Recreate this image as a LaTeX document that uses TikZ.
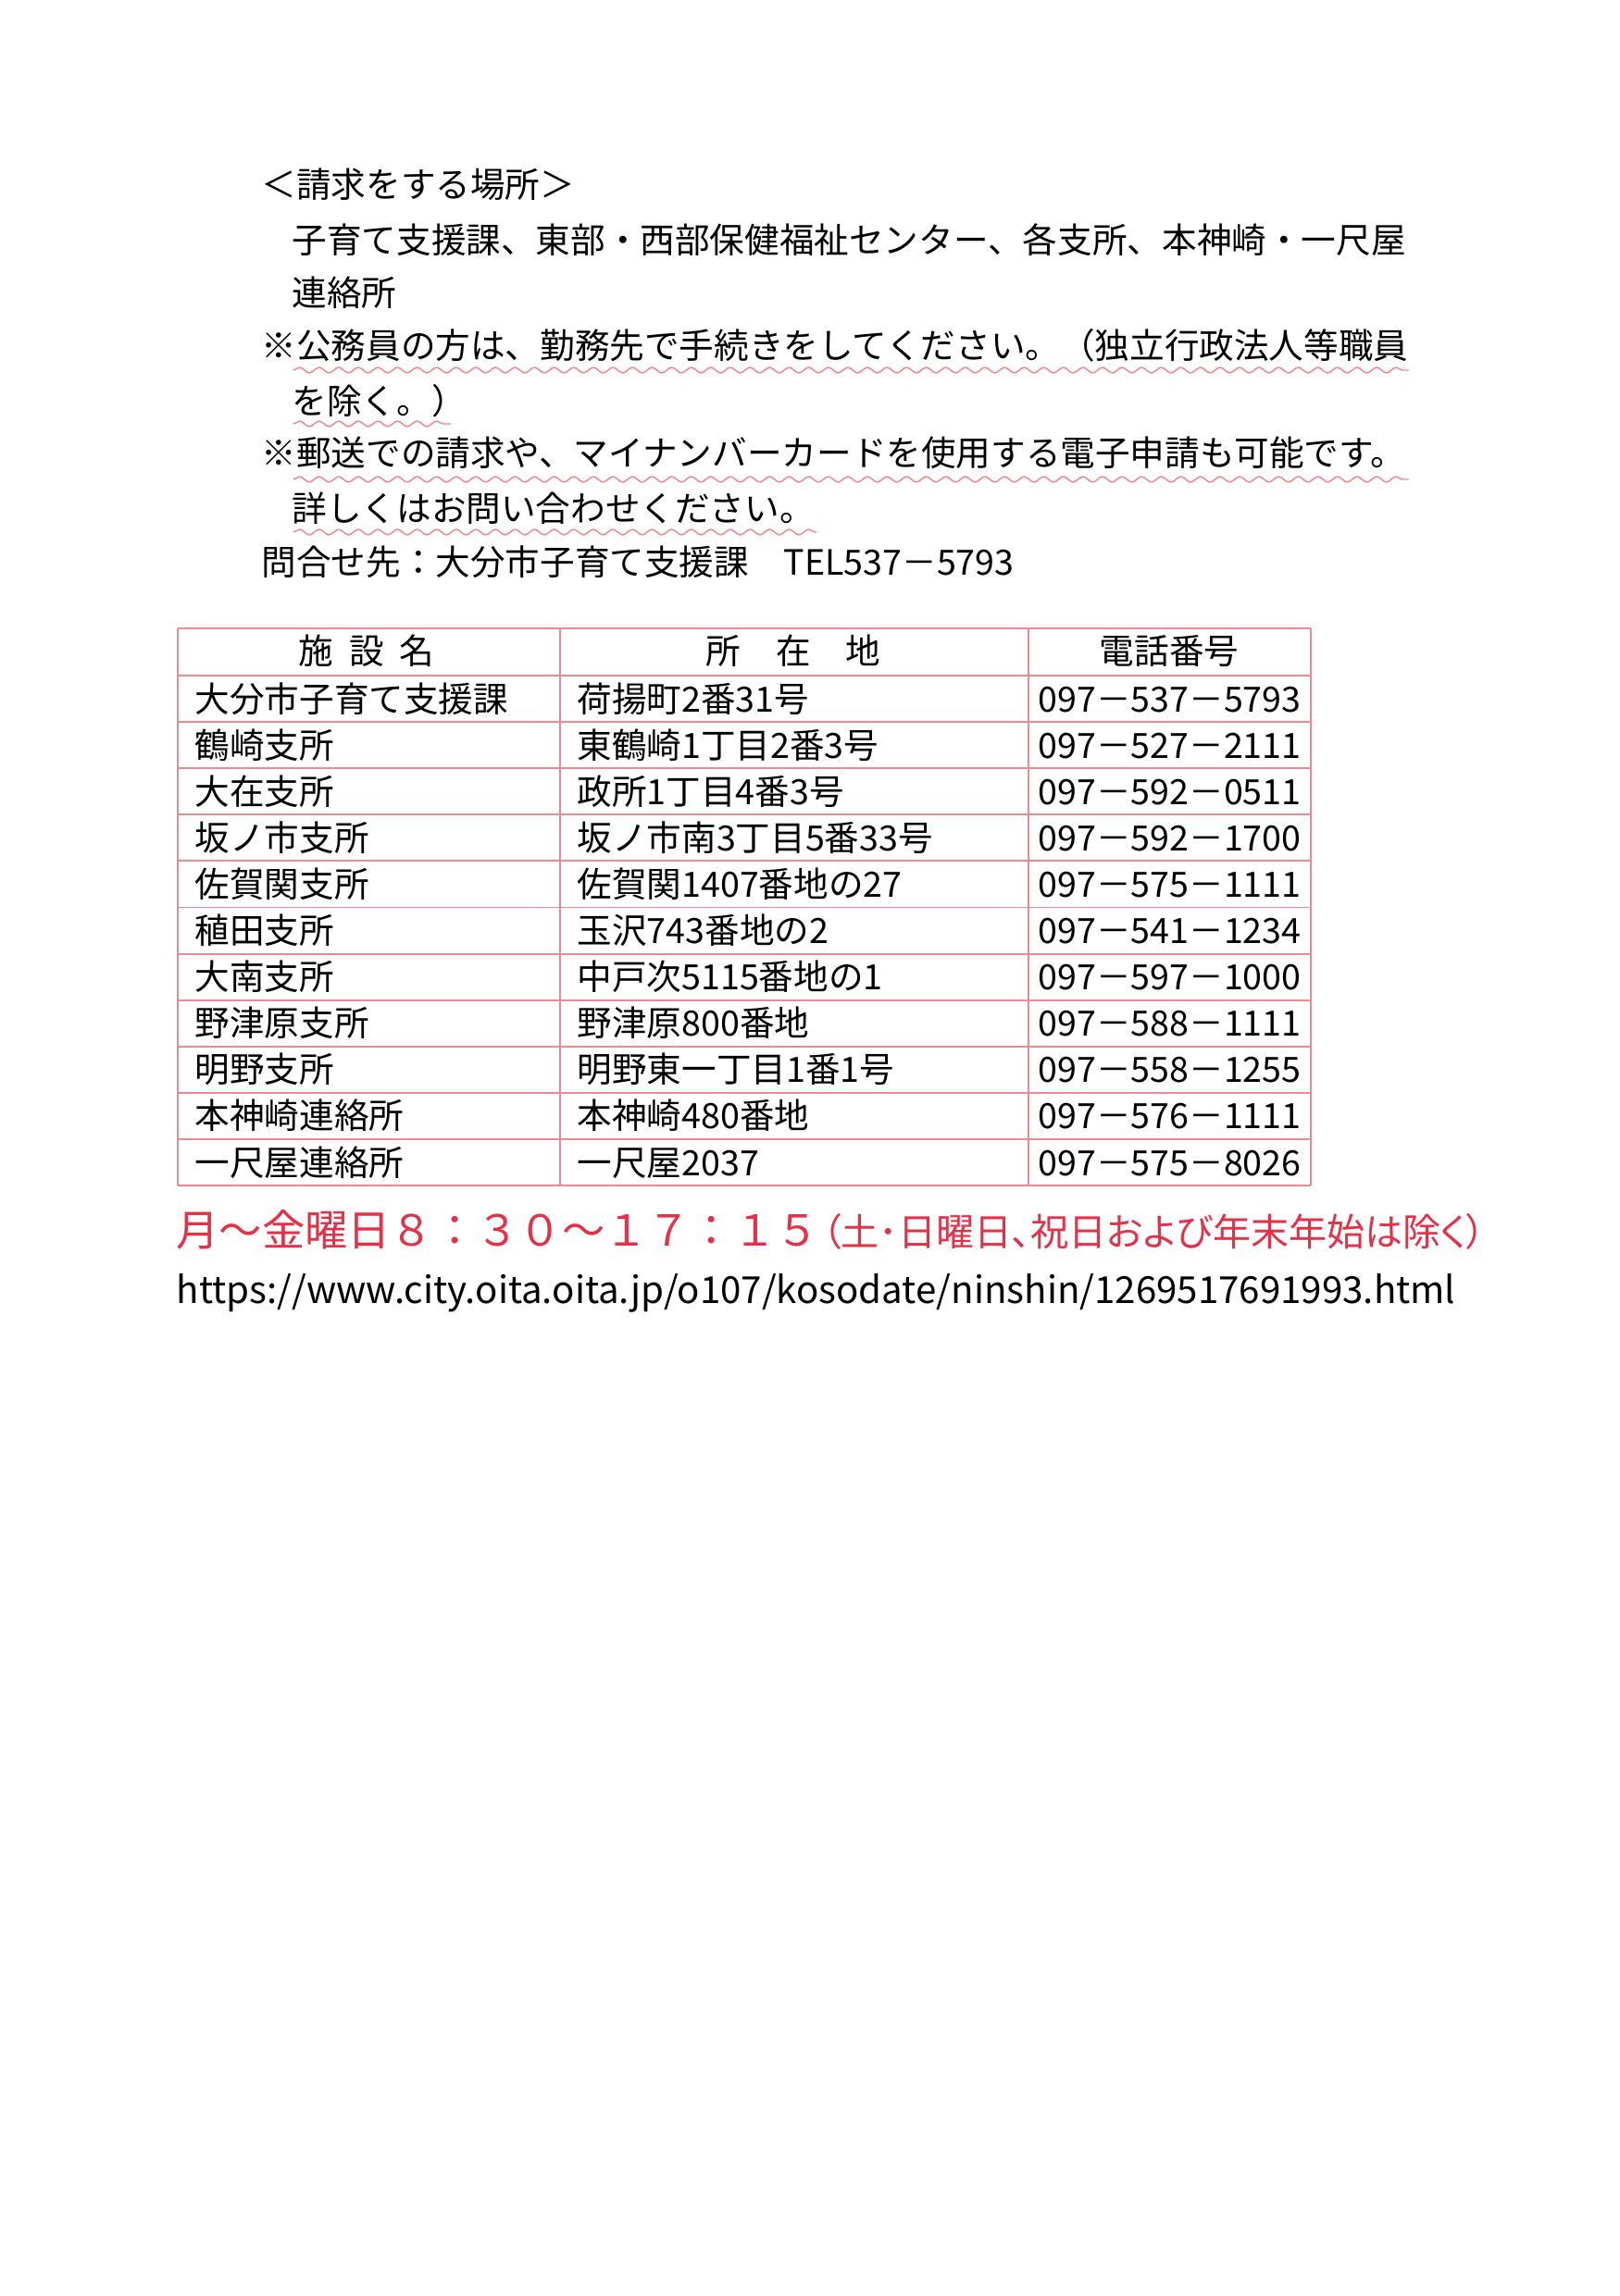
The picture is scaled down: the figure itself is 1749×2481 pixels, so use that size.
\documentclass[tikz,border=0pt]{standalone}
\usepackage{fontspec}
\setmainfont{Noto Sans CJK JP}
\usetikzlibrary{decorations.pathmorphing}
\definecolor{tblline}{RGB}{236,138,148}
\definecolor{redtxt}{RGB}{229,49,72}
\definecolor{wavecol}{RGB}{240,136,142}
\begin{document}
\begin{tikzpicture}[x=0.34036pt,y=-0.34036pt,
  txt/.style={anchor=base west,inner sep=0pt,font=\fontsize{12.8}{15}\selectfont},
  hdr/.style={anchor=base,inner sep=0pt,font=\fontsize{12.8}{15}\selectfont},
  wave/.style={draw=wavecol,line width=0.5pt,decorate,decoration={snake,segment length=7.2pt,amplitude=1pt}},
  grid/.style={draw=tblline,line width=0.65pt}]
\useasboundingbox[fill=white] (0,0) rectangle (1749,2481);

% ---- upper text block ----
\node[txt] (l1) at (282,214) {＜請求をする場所＞};
\node[txt] (l2) at (315,274) {子育て支援課、東部・西部保健福祉センター、各支所、本神崎・一尺屋};
\node[txt] (l3) at (315,331) {連絡所};
\node[txt] (l4) at (282,388) {※公務員の方は、勤務先で手続きをしてください。（独立行政法人等職員};
\node[txt] (l5) at (315,448) {を除く。）};
\node[txt] (l6) at (282,504) {※郵送での請求や、マイナンバーカードを使用する電子申請も可能です。};
\node[txt] (l7) at (315,564) {詳しくはお問い合わせください。};
\node[txt] (l8) at (282,622) {問合せ先：大分市子育て支援課　TEL537－5793};

% ---- wavy underlines ----
\coordinate (w4a) at (317,400); \coordinate (w4b) at (1522,400);
\coordinate (w5a) at (317,458); \coordinate (w5b) at (487,458);
\coordinate (w6a) at (317,518); \coordinate (w6b) at (1522,518);
\coordinate (w7a) at (317,575); \coordinate (w7b) at (882,575);
\draw[wave] (w4a) -- (w4b);
\draw[wave] (w5a) -- (w5b);
\draw[wave] (w6a) -- (w6b);
\draw[wave] (w7a) -- (w7b);

% ---- table grid ----
\foreach \k in {0,...,11} {
  \draw[grid] (192,{730+50.1*\k}) -- (1416,{730+50.1*\k});
}
\draw[grid] (192,679) -- (1416,679);
\draw[grid] (192,679) -- (192,1281);
\draw[grid] (605,679) -- (605,1281);
\draw[grid] (1111,679) -- (1111,1281);
\draw[grid] (1416,679) -- (1416,1281);

% ---- header ----
\node[hdr] (h1) at (396,718) {施\hspace{0.45em}設\hspace{0.45em}名};
\node[hdr] (h2) at (857,718) {所　在　地};
\node[hdr] (h3) at (1263,718) {電話番号};

% ---- body ----
\foreach \na/\ad/\ph [count=\i] in {
  大分市子育て支援課/荷揚町2番31号/097－537－5793,
  鶴崎支所/東鶴崎1丁目2番3号/097－527－2111,
  大在支所/政所1丁目4番3号/097－592－0511,
  坂ノ市支所/坂ノ市南3丁目5番33号/097－592－1700,
  佐賀関支所/佐賀関1407番地の27/097－575－1111,
  稙田支所/玉沢743番地の2/097－541－1234,
  大南支所/中戸次5115番地の1/097－597－1000,
  野津原支所/野津原800番地/097－588－1111,
  明野支所/明野東一丁目1番1号/097－558－1255,
  本神崎連絡所/本神崎480番地/097－576－1111,
  一尺屋連絡所/一尺屋2037/097－575－8026} {
  \node[txt] (n\i) at (210,{730+50.1*(\i-0.5)+14}) {\na};
  \node[txt] (a\i) at (623,{730+50.1*(\i-0.5)+14}) {\ad};
  \node[txt] (p\i) at (1121,{730+50.1*(\i-0.5)+14}) {\ph};
}

% ---- opening hours ----
\node[anchor=base west,inner sep=0pt,text=redtxt] (hours) at (190,1346)
  {{\fontsize{15.75}{18}\selectfont 月～金曜日８：３０～１７：１５}\hspace{0.12em}{\fontsize{13.95}{16}\selectfont\addfontfeatures{RawFeature=+palt}（土･日曜日、祝日および年末年始は除く）}};

% ---- URL ----
\node[anchor=base west,inner sep=0pt,font=\fontsize{13.7}{16}\selectfont] (url) at (190,1408)
  {https://www.city.oita.oita.jp/o107/kosodate/ninshin/1269517691993.html};
\end{tikzpicture}
\end{document}
